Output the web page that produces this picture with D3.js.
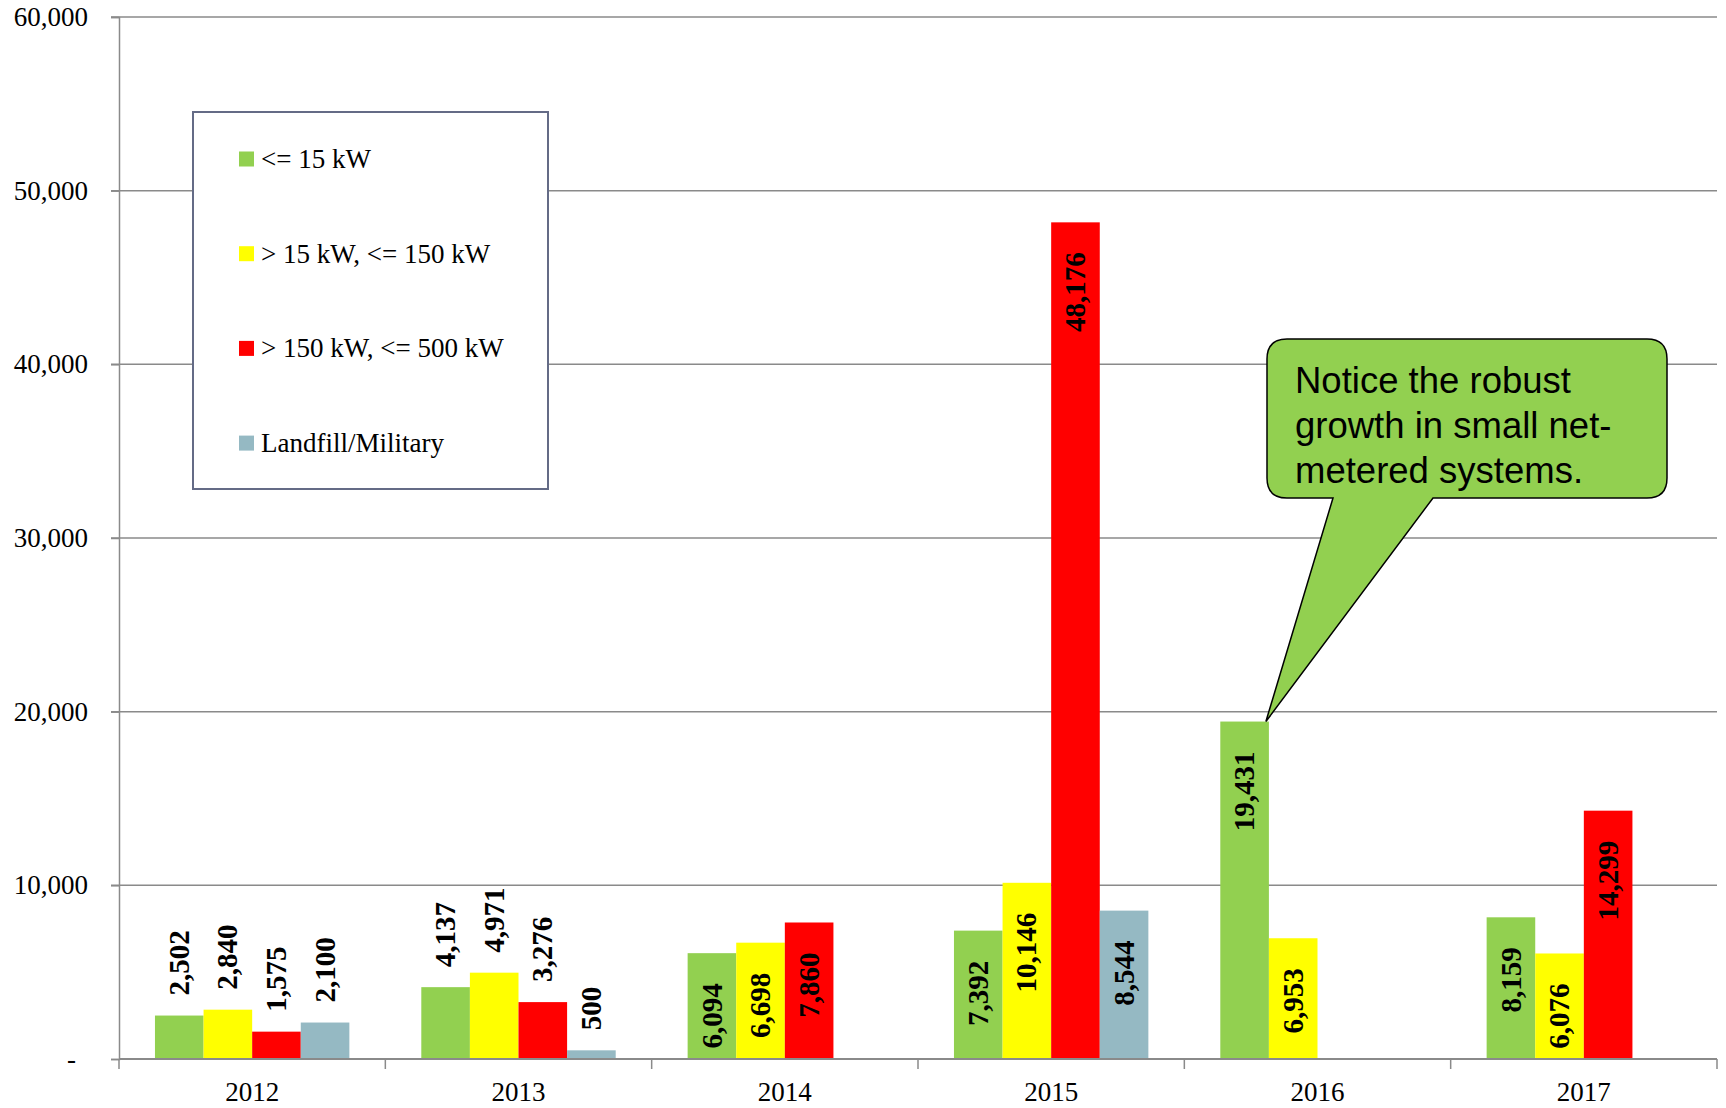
<!DOCTYPE html>
<html><head><meta charset="utf-8">
<script src="https://cdn.jsdelivr.net/npm/d3@7"></script>
<style>
html,body{margin:0;padding:0;background:#fff;}
svg{display:block;}
.serif{font-family:"Liberation Serif","Times New Roman",serif;}
</style></head>
<body><svg id="chart" width="1726" height="1108"></svg>
<script>
const years = ["2012","2013","2014","2015","2016","2017"];
const seriesNames = ["<= 15 kW", "> 15 kW, <= 150 kW", "> 150 kW, <= 500 kW", "Landfill/Military"];
const seriesColors = ["#92D050", "#FFFF00", "#FF0000", "#95B9C3"];
const small = [2502, 4137, 6094, 7392, 19431, 8159];
const medium = [2840, 4971, 6698, 10146, 6953, 6076];
const large = [1575, 3276, 7860, 48176, null, 14299];
const landfill = [2100, 500, null, 8544, null, null];
const yTicks = [0, 10000, 20000, 30000, 40000, 50000, 60000];
const calloutLines = ["Notice the robust", "growth in small net-", "metered systems."];

const seriesValues = [small, medium, large, landfill];
const svg = d3.select("#chart");
const L = 119, R = 1717, T = 17, B = 1059;

const y = d3.scaleLinear().domain([0, 60000]).range([B, T]);
const x0 = d3.scaleBand().domain(years).range([L, R]).padding(0);
const x1 = d3.scaleBand().domain(d3.range(4)).range([0, x0.bandwidth()]).paddingInner(0).paddingOuter(0.74);

// gridlines
svg.append("g").selectAll("line").data(yTicks.filter(d => d > 0)).join("line")
  .attr("x1", L - 8).attr("x2", R).attr("y1", d => y(d)).attr("y2", d => y(d))
  .attr("stroke", "#8a8a8a").attr("stroke-width", 1.5);

// y axis
const yAxis = d3.axisLeft(y).tickValues(yTicks).tickSize(8)
  .tickFormat(d => d === 0 ? "-" : d3.format(",")(d));
const gy = svg.append("g").attr("transform", `translate(${L},0)`).call(yAxis);
gy.select(".domain").attr("stroke", "#8a8a8a").attr("stroke-width", 1.5);
gy.selectAll(".tick line").attr("stroke", "#8a8a8a").attr("stroke-width", 1.5);
gy.selectAll(".tick text").attr("class", "serif").attr("font-size", 27).attr("fill", "#000")
  .attr("x", d => d === 0 ? -43 : -31);

// legend box
const lg = svg.append("g");
lg.append("rect").attr("x", 193).attr("y", 112).attr("width", 355).attr("height", 377)
  .attr("fill", "#fff").attr("stroke", "#646b86").attr("stroke-width", 2);
seriesNames.forEach((n, i) => {
  const cy = 159 + i * 94.7;
  lg.append("rect").attr("x", 239).attr("y", cy - 7.5).attr("width", 15).attr("height", 15).attr("fill", seriesColors[i]);
  lg.append("text").attr("class", "serif").attr("x", 261).attr("y", cy + 9).attr("font-size", 27).attr("fill", "#000").text(n);
});

// bars
const groups = svg.append("g").selectAll("g").data(years).join("g")
  .attr("transform", d => `translate(${x0(d)},0)`);
const cells = groups.selectAll("g").data((yr, j) => seriesValues.map((s, i) => ({i, v: s[j]})).filter(d => d.v != null))
  .join("g");
cells.append("rect")
  .attr("x", d => x1(d.i)).attr("width", x1.bandwidth())
  .attr("y", d => y(d.v)).attr("height", d => B - y(d.v))
  .attr("fill", d => seriesColors[d.i]);
cells.append("text").attr("class", "serif")
  .attr("font-size", 29).attr("font-weight", "bold").attr("fill", "#000")
  .attr("dy", "0.33em")
  .attr("text-anchor", d => d.v >= 5500 ? "end" : "start")
  .attr("transform", d => `translate(${x1(d.i) + x1.bandwidth() / 2},${d.v >= 5500 ? y(d.v) + 30 : y(d.v) - 20}) rotate(-90)`)
  .text(d => d3.format(",")(d.v));

// x axis
const gx = svg.append("g").attr("transform", `translate(0,${B})`);
gx.append("line").attr("x1", L).attr("x2", R).attr("stroke", "#8a8a8a").attr("stroke-width", 2);
const bounds = years.map(d => x0(d)).concat([R]);
gx.selectAll("line.tk").data(bounds).join("line").attr("class", "tk")
  .attr("x1", d => d).attr("x2", d => d).attr("y1", 0).attr("y2", 10)
  .attr("stroke", "#8a8a8a").attr("stroke-width", 1.5);
gx.selectAll("text").data(years).join("text").attr("class", "serif")
  .attr("x", d => x0(d) + x0.bandwidth() / 2).attr("y", 42)
  .attr("text-anchor", "middle").attr("font-size", 27).attr("fill", "#000").text(d => d);

// callout
const bx = 1267, by = 339, bw = 400, bh = 159, r = 20;
const tipX = x0("2016") + x1(0) + x1.bandwidth() - 3, tipY = y(small[4]);
const b1 = 1333, b2 = 1433;
const path = `M${bx + r},${by} H${bx + bw - r} Q${bx + bw},${by} ${bx + bw},${by + r} V${by + bh - r} Q${bx + bw},${by + bh} ${bx + bw - r},${by + bh} H${b2} L${tipX},${tipY} L${b1},${by + bh} H${bx + r} Q${bx},${by + bh} ${bx},${by + bh - r} V${by + r} Q${bx},${by} ${bx + r},${by} Z`;
svg.append("path").attr("d", path).attr("fill", "#92D050").attr("stroke", "#000").attr("stroke-width", 1.5);
svg.append("g").selectAll("text").data(calloutLines).join("text")
  .attr("x", 1295).attr("y", (d, i) => 393 + i * 45)
  .attr("font-family", "Liberation Sans, Arial, sans-serif").attr("font-size", 36.5).attr("fill", "#000")
  .text(d => d);
</script></body></html>
